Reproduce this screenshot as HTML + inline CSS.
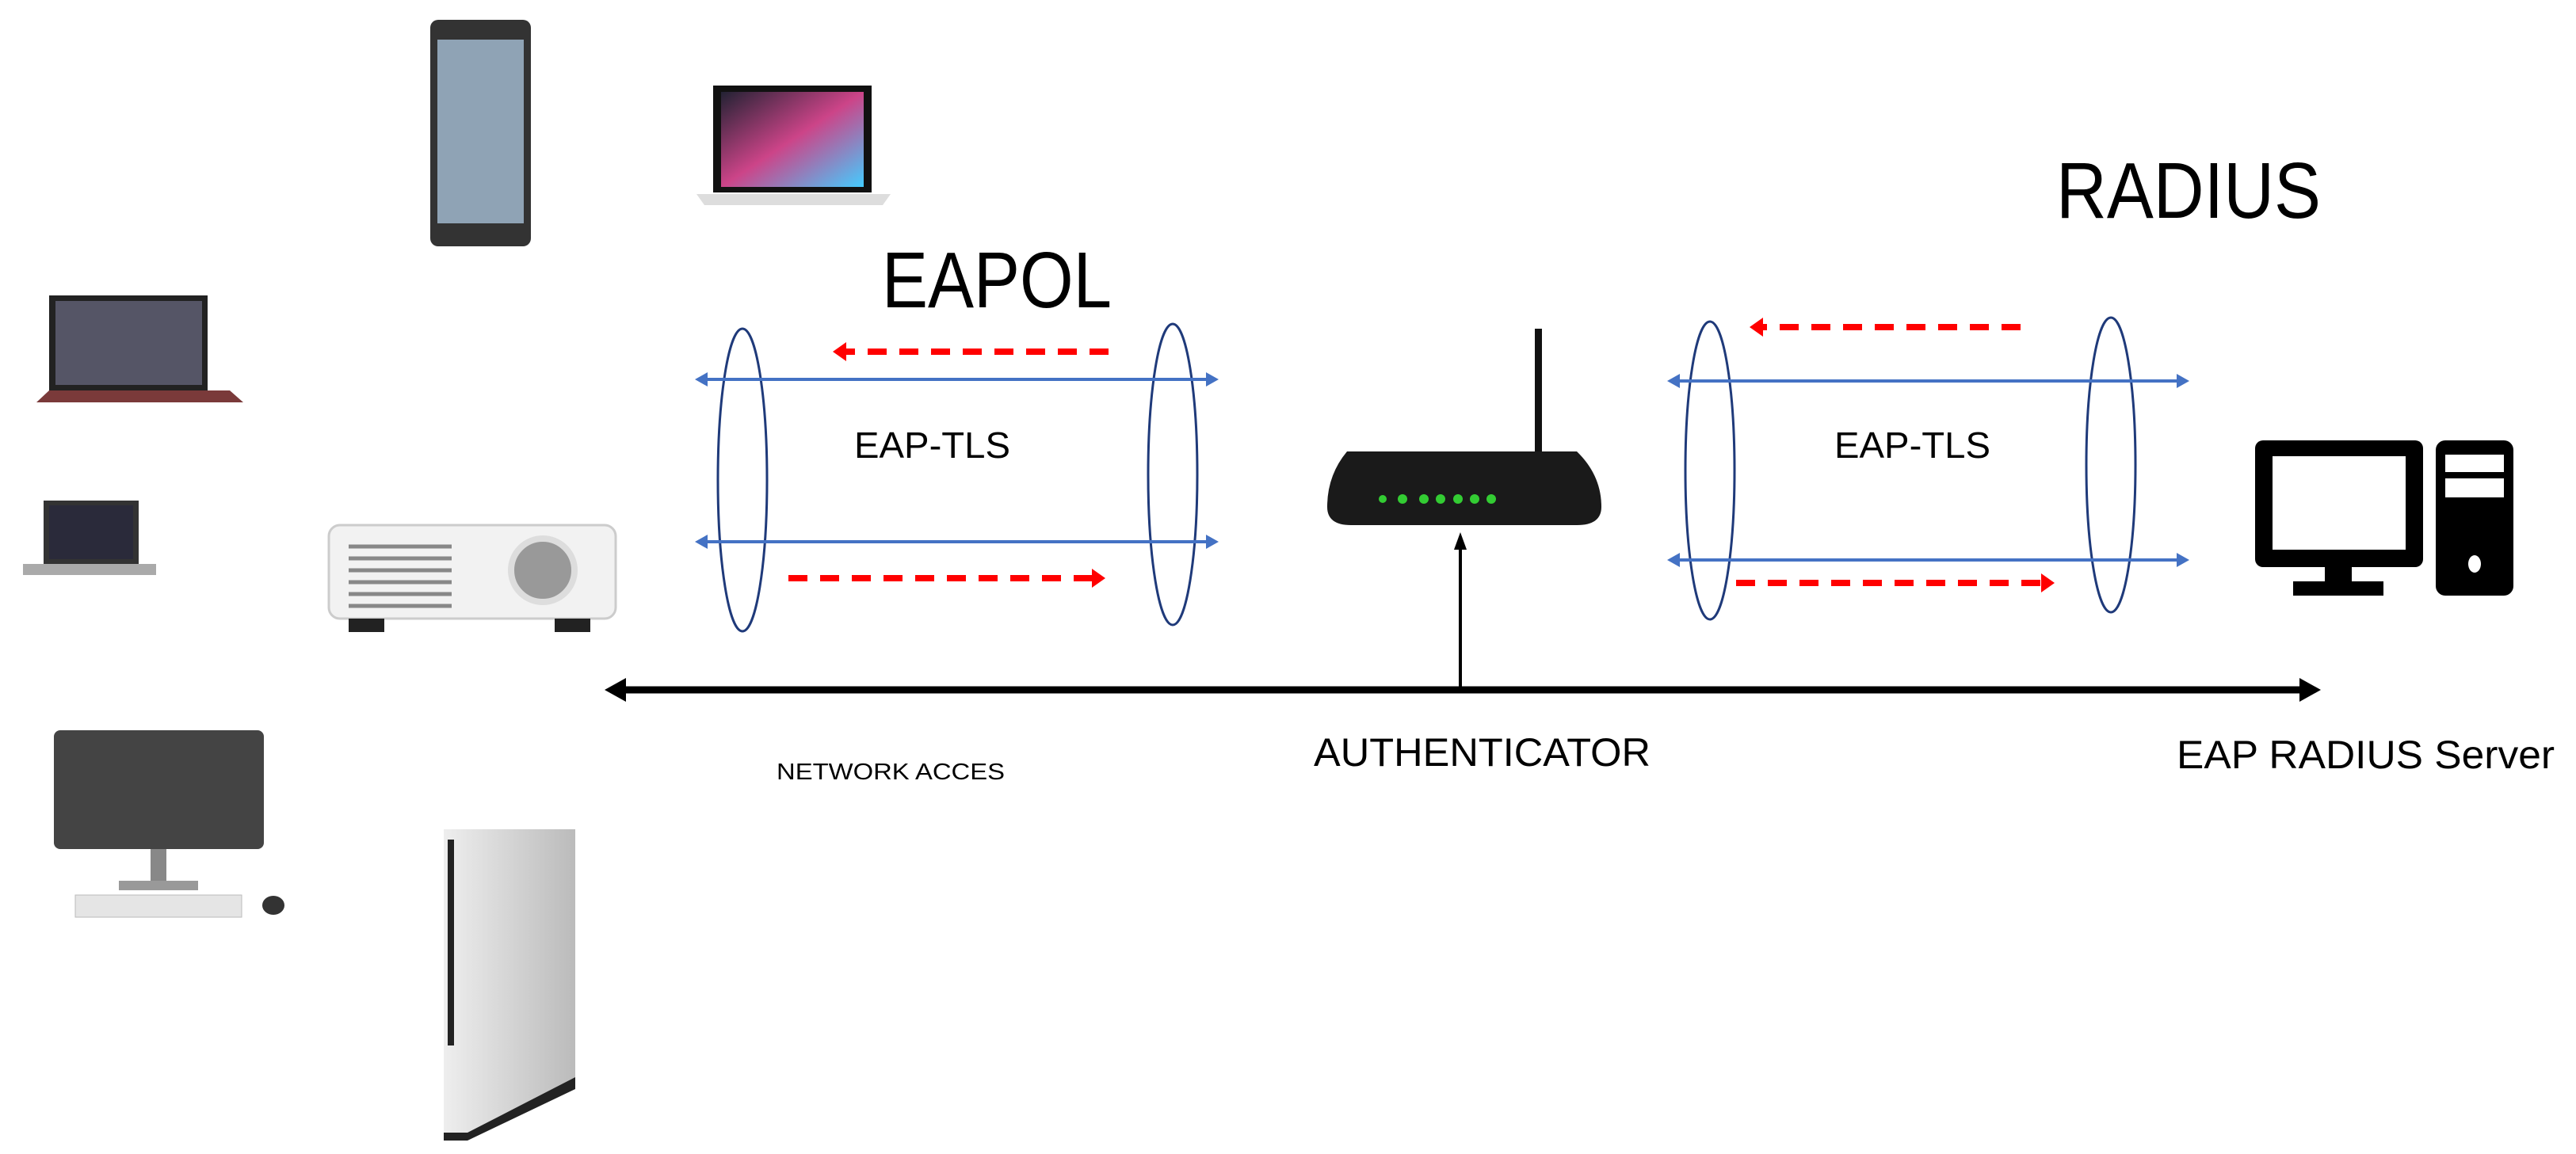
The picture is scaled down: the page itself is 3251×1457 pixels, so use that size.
<!DOCTYPE html>
<html><head><meta charset="utf-8"><style>html,body{margin:0;padding:0;background:#fff}svg{display:block}</style></head><body>
<svg width="3251" height="1457" viewBox="0 0 3251 1457" xmlns="http://www.w3.org/2000/svg" font-family="Liberation Sans, sans-serif">
<defs>
<linearGradient id="scr" x1="0" y1="0" x2="1" y2="1"><stop offset="0" stop-color="#223"/><stop offset="0.5" stop-color="#c48"/><stop offset="1" stop-color="#4cf"/></linearGradient>
<linearGradient id="gr" x1="0" y1="0" x2="1" y2="0"><stop offset="0" stop-color="#eee"/><stop offset="1" stop-color="#bbb"/></linearGradient>
</defs>
<rect x="543" y="25" width="127" height="286" rx="10" fill="#333"/>
<rect x="552" y="50" width="109" height="232" fill="#8fa3b5"/>
<rect x="900" y="108" width="200" height="135" fill="#111"/>
<rect x="910" y="116" width="180" height="120" fill="url(#scr)"/>
<polygon points="879,245 1124,245 1114,259 889,259" fill="#ddd"/>
<rect x="62" y="373" width="200" height="120" fill="#222"/>
<rect x="70" y="380" width="185" height="106" fill="#556"/>
<polygon points="46,508 307,508 290,493 62,493" fill="#7a3a3a"/>
<rect x="55" y="632" width="120" height="80" fill="#333"/>
<rect x="62" y="638" width="106" height="68" fill="#2a2a3a"/>
<rect x="29" y="712" width="168" height="14" fill="#aaa"/>
<rect x="415" y="663" width="362" height="118" rx="14" fill="#f2f2f2" stroke="#ccc" stroke-width="3"/>
<g stroke="#888" stroke-width="5"><line x1="440" y1="690" x2="570" y2="690"/><line x1="440" y1="705" x2="570" y2="705"/><line x1="440" y1="720" x2="570" y2="720"/><line x1="440" y1="735" x2="570" y2="735"/><line x1="440" y1="750" x2="570" y2="750"/><line x1="440" y1="765" x2="570" y2="765"/></g>
<circle cx="685" cy="720" r="40" fill="#999" stroke="#ddd" stroke-width="8"/>
<rect x="440" y="781" width="45" height="17" fill="#222"/><rect x="700" y="781" width="45" height="17" fill="#222"/>
<rect x="68" y="922" width="265" height="150" rx="8" fill="#444"/>
<rect x="190" y="1072" width="20" height="40" fill="#888"/>
<rect x="150" y="1112" width="100" height="12" fill="#999"/>
<rect x="95" y="1130" width="210" height="28" fill="#e5e5e5" stroke="#bbb"/>
<ellipse cx="345" cy="1143" rx="14" ry="12" fill="#333"/>
<polygon points="560,1047 726,1047 726,1360 590,1430 560,1430" fill="url(#gr)"/>
<polygon points="726,1360 726,1375 590,1440 560,1440 560,1430 590,1430" fill="#222"/>
<rect x="565" y="1060" width="8" height="260" fill="#222"/>
<text x="1113" y="388" font-size="100" textLength="290" lengthAdjust="spacingAndGlyphs">EAPOL</text>
<text x="2595" y="275" font-size="100" textLength="334" lengthAdjust="spacingAndGlyphs">RADIUS</text>
<text x="1078" y="578" font-size="46" textLength="197" lengthAdjust="spacingAndGlyphs">EAP-TLS</text>
<text x="2315" y="578" font-size="46" textLength="197" lengthAdjust="spacingAndGlyphs">EAP-TLS</text>
<text x="1658" y="967" font-size="50" textLength="425" lengthAdjust="spacingAndGlyphs">AUTHENTICATOR</text>
<text x="2747" y="970" font-size="50" textLength="477" lengthAdjust="spacingAndGlyphs">EAP RADIUS Server</text>
<text x="980" y="984" font-size="29" textLength="288" lengthAdjust="spacingAndGlyphs">NETWORK ACCES</text>
<g fill="none" stroke="#1f3a7a" stroke-width="3">
<ellipse cx="937" cy="606" rx="31" ry="191"/>
<ellipse cx="1480" cy="599" rx="31" ry="190"/>
<ellipse cx="2158" cy="594" rx="31" ry="188"/>
<ellipse cx="2664" cy="587" rx="31" ry="186"/>
</g>
<g stroke="#4472c4" stroke-width="4">
<line x1="885" y1="479" x2="1530" y2="479"/><line x1="885" y1="684" x2="1530" y2="684"/>
<line x1="2112" y1="481" x2="2755" y2="481"/><line x1="2112" y1="707" x2="2755" y2="707"/>
</g>
<g fill="#4472c4">
<polygon points="877,479 893,470 893,488"/><polygon points="1538,479 1522,470 1522,488"/>
<polygon points="877,684 893,675 893,693"/><polygon points="1538,684 1522,675 1522,693"/>
<polygon points="2104,481 2120,472 2120,490"/><polygon points="2763,481 2747,472 2747,490"/>
<polygon points="2104,707 2120,698 2120,716"/><polygon points="2763,707 2747,698 2747,716"/>
</g>
<g stroke="#ff0000" stroke-width="8" stroke-dasharray="24,16">
<line x1="1399" y1="444" x2="1066" y2="444"/><line x1="995" y1="730" x2="1380" y2="730"/>
<line x1="2550" y1="413" x2="2222" y2="413"/><line x1="2191" y1="736" x2="2578" y2="736"/>
</g>
<g fill="#ff0000">
<polygon points="1051,444 1068,432 1068,456"/><polygon points="1395,730 1378,718 1378,742"/>
<polygon points="2208,413 2225,401 2225,425"/><polygon points="2593,736 2576,724 2576,748"/>
</g>
<line x1="780" y1="871" x2="2910" y2="871" stroke="#000" stroke-width="9"/>
<polygon points="763,871 790,856 790,886" fill="#000"/>
<polygon points="2929,871 2902,856 2902,886" fill="#000"/>
<line x1="1843" y1="871" x2="1843" y2="690" stroke="#000" stroke-width="4"/>
<polygon points="1843,672 1835,694 1851,694" fill="#000"/>
<rect x="1937" y="415" width="9" height="160" fill="#111"/>
<path d="M1700,570 L1990,570 Q2021,600 2021,640 Q2021,663 1990,663 L1705,663 Q1675,663 1675,640 Q1675,600 1700,570 Z" fill="#1a1a1a"/>
<g fill="#3c3">
<circle cx="1745" cy="630" r="5"/><circle cx="1770" cy="630" r="6"/><circle cx="1797" cy="630" r="6"/><circle cx="1818" cy="630" r="6"/><circle cx="1840" cy="630" r="6"/><circle cx="1861" cy="630" r="6"/><circle cx="1882" cy="630" r="6"/>
</g>
<rect x="2846" y="556" width="212" height="160" rx="10" fill="#000"/>
<rect x="2868" y="576" width="168" height="118" fill="#fff"/>
<rect x="2934" y="716" width="34" height="22" fill="#000"/>
<rect x="2894" y="734" width="114" height="18" fill="#000"/>
<rect x="3074" y="556" width="98" height="196" rx="12" fill="#000"/>
<rect x="3086" y="574" width="74" height="22" fill="#fff"/>
<rect x="3086" y="604" width="74" height="24" fill="#fff"/>
<ellipse cx="3123" cy="712" rx="8" ry="11" fill="#fff"/>
</svg>
</body></html>
